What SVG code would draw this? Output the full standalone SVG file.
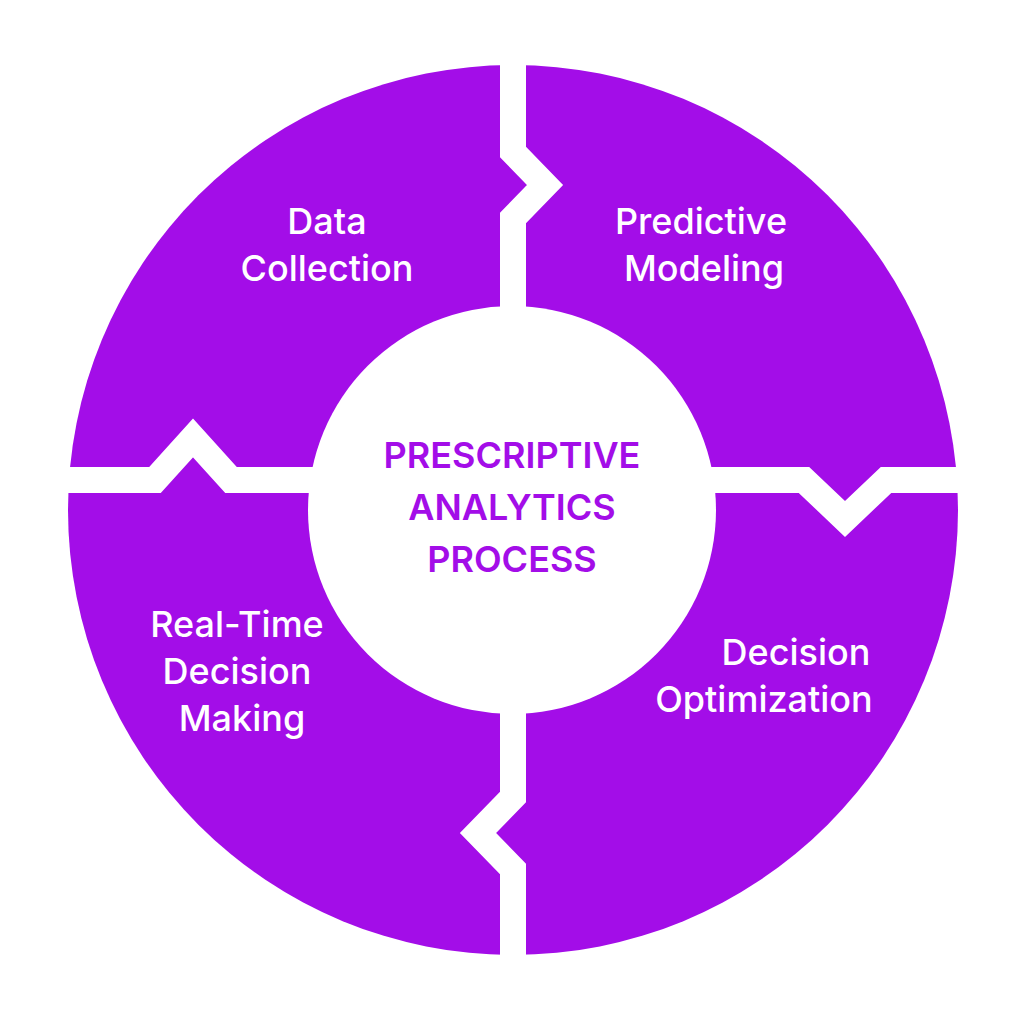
<svg xmlns="http://www.w3.org/2000/svg" width="1024" height="1024" viewBox="0 0 1024 1024">
<style>
.gap{fill:none;stroke:#fff;stroke-width:26;stroke-linejoin:miter}
.lbl{font-family:Inter,"Liberation Sans",sans-serif;font-size:36px;font-weight:500;fill:#fff;text-anchor:middle}
.ctr{font-family:Inter,"Liberation Sans",sans-serif;font-size:36px;font-weight:600;fill:#A30DE8;text-anchor:middle}
</style>
<rect width="1024" height="1024" fill="#fff"/>
<g id="ring">
<circle cx="513" cy="510" r="445" fill="#A30DE8"/>
</g>
<g id="connectors">
<polyline class="gap" points="513,40 513,152 545,185 513,218 513,320"/>
<polyline class="gap" points="513,700 513,797 478,833 513,869 513,980"/>
<polyline class="gap" points="40,480 155,480 193,438 231,480 330,480"/>
<polyline class="gap" points="700,480 804,480 845,519 886,480 990,480"/>
</g>
<g id="center">
<circle cx="512" cy="510" r="204" fill="#fff"/>
<text class="ctr" x="512" y="468">PRESCRIPTIVE</text>
<text class="ctr" x="512" y="520">ANALYTICS</text>
<text class="ctr" x="512" y="572">PROCESS</text>
</g>
<g id="data-collection">
<text class="lbl" x="327" y="234">Data</text>
<text class="lbl" x="327" y="281">Collection</text>
</g>
<g id="predictive-modeling">
<text class="lbl" x="701" y="234">Predictive</text>
<text class="lbl" x="704" y="281">Modeling</text>
</g>
<g id="real-time">
<text class="lbl" x="237" y="637">Real-Time</text>
<text class="lbl" x="237" y="684">Decision</text>
<text class="lbl" x="242" y="731">Making</text>
</g>
<g id="decision-optimization">
<text class="lbl" x="796" y="665">Decision</text>
<text class="lbl" x="764" y="712">Optimization</text>
</g>
</svg>
